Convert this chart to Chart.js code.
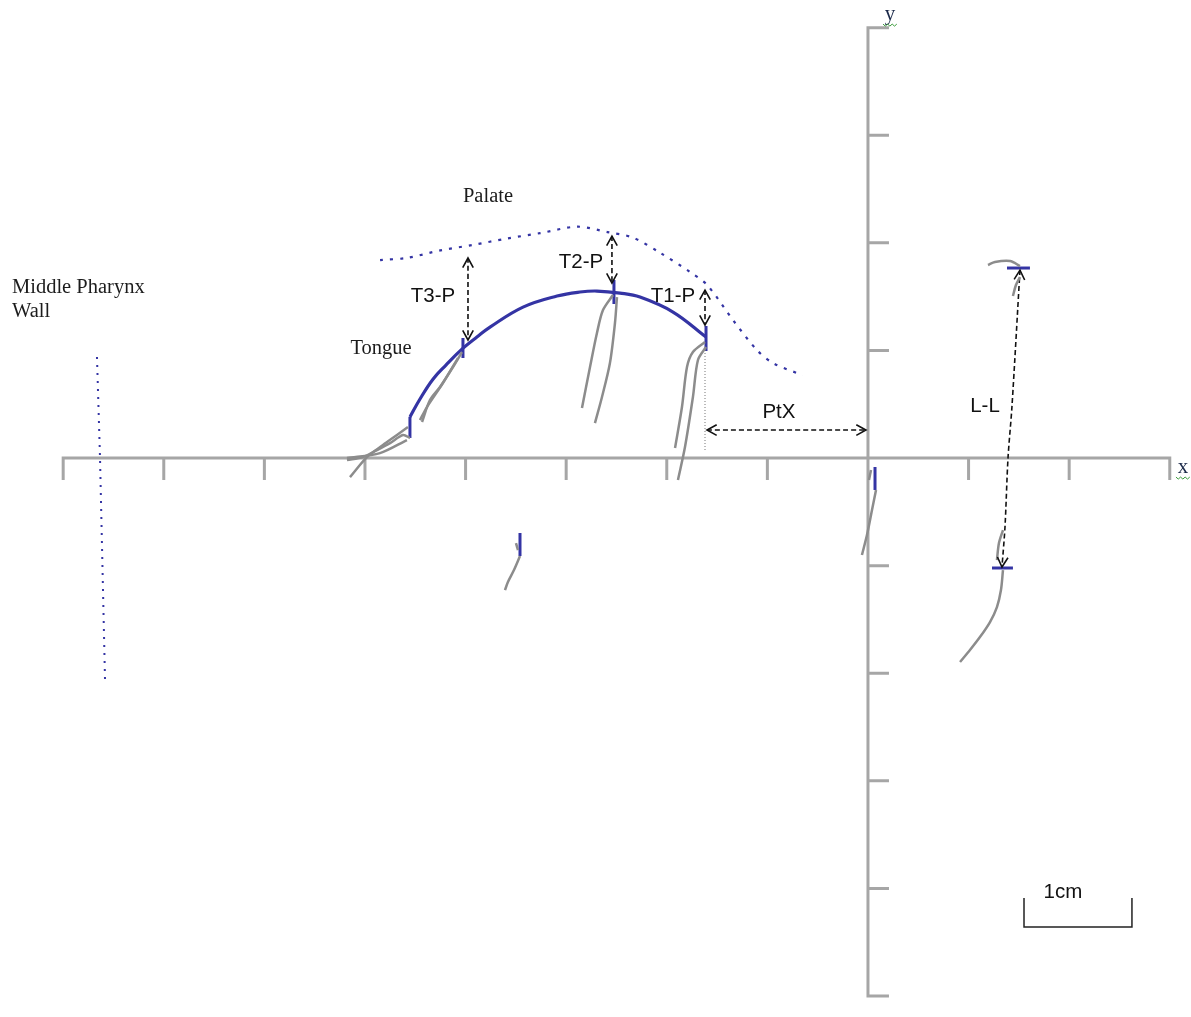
<!DOCTYPE html>
<html>
<head>
<meta charset="utf-8">
<title>Tongue and palate tracing</title>
<script src="https://cdn.jsdelivr.net/npm/chart.js@4.4.1/dist/chart.umd.min.js"></script>
<style>
  html, body { margin: 0; padding: 0; background: #fff; }
  canvas { display: block; }
</style>
</head>
<body>
<canvas id="chart" width="1191" height="1017"></canvas>
<script>
// axis ticks, 1 cm apart
const xTicks = [-8, -7, -6, -5, -4, -3, -2, -1, 0, 1, 2, 3];
const yTicks = [-5, -4, -3, -2, -1, 0, 1, 2, 3, 4];

// outlines, [x, y] in cm
const palate = [[-4.85, 1.84], [-4.58, 1.86], [-4.25, 1.93], [-3.93, 1.98], [-3.59, 2.04], [-3.26, 2.09],
  [-2.89, 2.15], [-2.59, 2.10], [-2.34, 2.05], [-2.07, 1.91], [-1.77, 1.73], [-1.60, 1.61],
  [-1.34, 1.28], [-1.10, 1.00], [-0.94, 0.88], [-0.65, 0.77]];
const tongue = [[-4.553, 0.381], [-4.453, 0.549], [-4.324, 0.733], [-4.195, 0.864], [-4.036, 1.012],
  [-3.887, 1.125], [-3.757, 1.217], [-3.429, 1.403], [-3.091, 1.506], [-2.863, 1.543],
  [-2.694, 1.552], [-2.465, 1.533], [-2.266, 1.496], [-1.938, 1.357], [-1.610, 1.125]];
const pharynxWall = [[-7.664, 0.939], [-7.634, 0.009], [-7.584, -2.063]];

// gray movement traces of the sensors
const traceT3a = [[-4.036, 0.985], [-4.125, 0.846], [-4.254, 0.660], [-4.354, 0.539], [-4.433, 0.335]];
const traceT3b = [[-4.076, 0.929], [-4.225, 0.697], [-4.384, 0.474], [-4.453, 0.353]];
const traceBaseA = [[-4.553, 0.186], [-4.622, 0.214], [-4.751, 0.139], [-4.881, 0.074], [-5.020, 0.009], [-5.179, -0.019]];
const traceBaseB = [[-4.573, 0.288], [-4.682, 0.214], [-4.821, 0.121], [-4.980, 0.009], [-5.149, -0.177]];
const traceBaseC = [[-4.583, 0.167], [-4.851, 0.046], [-5.179, 0]];
const traceT2a = [[-2.535, 1.515], [-2.634, 1.375], [-2.694, 1.162], [-2.763, 0.846], [-2.843, 0.465]];
const traceT2b = [[-2.495, 1.496], [-2.515, 1.255], [-2.565, 0.883], [-2.644, 0.567], [-2.714, 0.325]];
const traceT1a = [[-1.620, 1.078], [-1.740, 0.985], [-1.799, 0.846], [-1.849, 0.474], [-1.918, 0.093]];
const traceT1b = [[-1.610, 1.032], [-1.690, 0.911], [-1.740, 0.567], [-1.819, 0.102], [-1.889, -0.204]];
const traceJaw = [[-3.459, -0.911], [-3.519, -1.041], [-3.579, -1.152], [-3.608, -1.227]];
const traceJawStub = [[-3.499, -0.790], [-3.479, -0.855]];
const traceIncisor = [[0.080, -0.297], [0.040, -0.483], [-0.010, -0.716], [-0.060, -0.901]];
const traceIncisorStub = [[0.010, -0.204], [0.030, -0.112]];
const traceUpperLipA = [[1.193, 1.794], [1.262, 1.822], [1.412, 1.831], [1.511, 1.784]];
const traceUpperLipB = [[1.441, 1.506], [1.471, 1.608], [1.511, 1.682]];
const traceLowerLipA = [[1.342, -0.669], [1.302, -0.790], [1.282, -0.948]];
const traceLowerLipB = [[1.342, -1.041], [1.322, -1.227], [1.282, -1.385], [1.213, -1.524], [1.113, -1.664], [1.014, -1.784], [0.915, -1.896]];

// short blue marks at the sensor positions
const markTongueBack = [[-4.553, 0.381], [-4.553, 0.186]];
const markT3 = [[-4.026, 1.115], [-4.026, 0.929]];
const markT2 = [[-2.525, 1.654], [-2.525, 1.431]];
const markT1 = [[-1.610, 1.227], [-1.610, 0.994]];
const markIncisor = [[0.070, -0.084], [0.070, -0.297]];
const markJaw = [[-3.459, -0.697], [-3.459, -0.911]];
const markUpperLip = [[1.382, 1.766], [1.610, 1.766]];
const markLowerLip = [[1.233, -1.022], [1.441, -1.022]];

// measured distances (double arrows)
const arrowT3P = [[-3.976, 1.859], [-3.976, 1.097]];
const arrowT2P = [[-2.545, 2.063], [-2.545, 1.626]];
const arrowT1P = [[-1.620, 1.561], [-1.620, 1.236]];
const arrowPtX = [[-1.600, 0.260], [-0.020, 0.260]];
const arrowLL = [[1.511, 1.747], [1.431, 0.474], [1.392, 0], [1.362, -0.641], [1.332, -1.013]];
const ptxGuide = [[-1.620, 1.004], [-1.620, 0.074]];
const scaleBar = [[1.551, -4.089], [1.551, -4.359], [2.624, -4.359], [2.624, -4.089]];

// text: [label, x, y]
const serifLabels = [['Palate', -3.777, 2.426], ['Tongue', -4.841, 1.013]];
const pharynxLabel = [['Middle Pharynx', -8.509, 1.580], ['Wall', -8.509, 1.357]];
const sansLabels = [['T3-P', -4.324, 1.506], ['T2-P', -2.853, 1.822], ['T1-P', -1.938, 1.506],
  ['PtX', -0.885, 0.428], ['L-L', 1.163, 0.483], ['1cm', 1.938, -4.033]];
const axisNames = [['x', 3.131, -0.084], ['y', 0.219, 4.126]];

const BLUE = '#3434a4';
const GRAY = '#8c8c8c';

const pts = arr => arr.map(([x, y]) => ({ x, y }));
const line = (data, color, width, extra) => Object.assign({
  data: pts(data), showLine: true, borderColor: color, backgroundColor: color,
  borderWidth: width, pointRadius: 0, fill: false, tension: 0
}, extra || {});

const traces = [traceT3a, traceT3b, traceBaseA, traceBaseB, traceBaseC, traceT2a, traceT2b,
  traceT1a, traceT1b, traceJaw, traceJawStub, traceIncisor, traceIncisorStub,
  traceUpperLipA, traceUpperLipB, traceLowerLipA, traceLowerLipB];
const marks = [markTongueBack, markT3, markT2, markT1, markIncisor, markJaw, markUpperLip, markLowerLip];
const arrows = [arrowT3P, arrowT2P, arrowT1P, arrowPtX, arrowLL];

const datasets = [];
traces.forEach(t => datasets.push(line(t, GRAY, 2.5, { tension: 0.3 })));
datasets.push(line(ptxGuide, '#777', 1, { borderDash: [1, 2] }));
datasets.push(line(tongue, BLUE, 3.2, { tension: 0.4 }));
marks.forEach(m => datasets.push(line(m, BLUE, 3)));
datasets.push(line(palate, BLUE, 2.2, { borderDash: [3, 7], tension: 0.3 }));
datasets.push(line(pharynxWall, BLUE, 2, { borderDash: [2, 6] }));
arrows.forEach(a => datasets.push(line(a, '#111', 1.6, { borderDash: [5, 3], tension: 0.3, arrow: true })));
datasets.push(line(scaleBar, '#222', 1.5));

const crossAxes = {
  id: 'crossAxes',
  beforeDatasetsDraw(chart) {
    const { ctx, scales: { x, y } } = chart;
    const x0 = x.getPixelForValue(0);
    const y0 = y.getPixelForValue(0);
    ctx.save();
    ctx.strokeStyle = '#a6a6a6';
    ctx.lineWidth = 3;
    ctx.beginPath();
    ctx.moveTo(x.getPixelForValue(xTicks[0]) - 1.5, y0);
    ctx.lineTo(x.getPixelForValue(xTicks[xTicks.length - 1]) + 1.5, y0);
    ctx.moveTo(x0, y.getPixelForValue(yTicks[yTicks.length - 1]) - 1.5);
    ctx.lineTo(x0, y.getPixelForValue(yTicks[0]) + 1.5);
    xTicks.forEach(v => {
      if (v === 0) return;
      const px = x.getPixelForValue(v);
      ctx.moveTo(px, y0);
      ctx.lineTo(px, y0 + 22);
    });
    yTicks.forEach(v => {
      if (v === 0) return;
      const py = y.getPixelForValue(v);
      ctx.moveTo(x0, py);
      ctx.lineTo(x0 + 21, py);
    });
    ctx.stroke();
    ctx.restore();
  }
};

function arrowHead(ctx, tip, from) {
  const a = Math.atan2(tip.y - from.y, tip.x - from.x);
  const len = 11, spread = 0.5;
  ctx.beginPath();
  ctx.moveTo(tip.x - len * Math.cos(a - spread), tip.y - len * Math.sin(a - spread));
  ctx.lineTo(tip.x, tip.y);
  ctx.lineTo(tip.x - len * Math.cos(a + spread), tip.y - len * Math.sin(a + spread));
  ctx.stroke();
}

const annotations = {
  id: 'annotations',
  afterDatasetsDraw(chart) {
    const { ctx, scales: { x, y } } = chart;
    ctx.save();
    // arrow heads on both ends of each measurement
    ctx.strokeStyle = '#111';
    ctx.lineWidth = 1.6;
    ctx.setLineDash([]);
    chart.data.datasets.forEach((ds, i) => {
      if (!ds.arrow) return;
      const p = chart.getDatasetMeta(i).data;
      arrowHead(ctx, p[0], p[1]);
      arrowHead(ctx, p[p.length - 1], p[p.length - 2]);
    });

    ctx.textBaseline = 'middle';
    ctx.textAlign = 'center';
    ctx.fillStyle = '#1c1c1c';
    ctx.font = '20.5px "Liberation Serif", serif';
    serifLabels.forEach(([t, vx, vy]) => ctx.fillText(t, x.getPixelForValue(vx), y.getPixelForValue(vy)));
    ctx.textAlign = 'left';
    pharynxLabel.forEach(([t, vx, vy]) => ctx.fillText(t, x.getPixelForValue(vx), y.getPixelForValue(vy)));

    ctx.textAlign = 'center';
    ctx.fillStyle = '#111';
    ctx.font = '20.5px "Liberation Sans", Arial, sans-serif';
    sansLabels.forEach(([t, vx, vy]) => ctx.fillText(t, x.getPixelForValue(vx), y.getPixelForValue(vy)));

    // axis names with the wavy underline of the source
    ctx.font = '21px "Liberation Serif", serif';
    axisNames.forEach(([t, vx, vy]) => {
      const px = x.getPixelForValue(vx), py = y.getPixelForValue(vy);
      ctx.fillStyle = '#1c2a4a';
      ctx.fillText(t, px, py);
      ctx.strokeStyle = '#3a9a3a';
      ctx.lineWidth = 1;
      ctx.beginPath();
      for (let k = 0; k <= 6; k++) {
        const sx = px - 7 + k * 2.3;
        const sy = py + 10 + (k % 2 ? 2 : 0);
        if (k === 0) ctx.moveTo(sx, sy); else ctx.lineTo(sx, sy);
      }
      ctx.stroke();
    });
    ctx.restore();
  }
};

new Chart(document.getElementById('chart'), {
  type: 'scatter',
  data: { datasets },
  options: {
    responsive: false,
    animation: false,
    layout: { padding: 0 },
    plugins: { legend: { display: false }, tooltip: { enabled: false } },
    scales: {
      x: { type: 'linear', min: -8.628, max: 3.211, display: false },
      y: { type: 'linear', min: -5.195, max: 4.257, display: false }
    }
  },
  plugins: [crossAxes, annotations]
});
</script>
</body>
</html>
